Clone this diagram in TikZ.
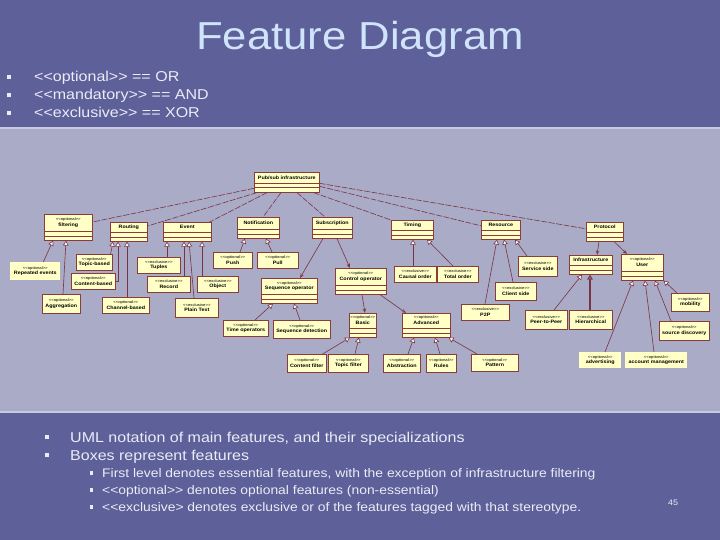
\documentclass[tikz,border=0pt]{standalone}
\usepackage{fontspec}
\setmainfont[FakeStretch=1.12, Ligatures=TeXOff]{Liberation Sans}
\usetikzlibrary{arrows.meta}
\definecolor{slidebg}{HTML}{5D6099}
\definecolor{panel}{HTML}{A9ABC7}
\definecolor{panelrim}{HTML}{C9CADB}
\definecolor{titleblue}{HTML}{CFE4FA}
\definecolor{bullettext}{HTML}{ECECF6}
\definecolor{boxfill}{HTML}{FFFFC6}
\definecolor{boxline}{HTML}{8C3B3B}
\definecolor{linkc}{HTML}{7A3344}

\newcommand{\stp}[1]{{\fontsize{3.8}{5.6}\selectfont\mdseries <<#1>>}\\}

\begin{document}
\begin{tikzpicture}[x=1pt,y=-1pt]
\tikzset{
  sz/.style 2 args={minimum width=#1pt, minimum height=#2pt},
  box/.style={draw=boxline, fill=boxfill, line width=0.6pt, anchor=north west,
    inner sep=0pt, align=center, font=\fontsize{4.8}{5.6}\selectfont\bfseries},
  cls/.style={box, text depth=10pt,
    path picture={\draw[boxline, line width=0.6pt]
      ([yshift=4.5pt]path picture bounding box.south west) -- ([yshift=4.5pt]path picture bounding box.south east)
      ([yshift=9pt]path picture bounding box.south west) -- ([yshift=9pt]path picture bounding box.south east);}},
  leaf/.style={box},
  pale/.style={box, draw=none},
  gen/.style={draw=linkc, line width=0.6pt, -{Triangle[fill=white, length=5pt, width=5.5pt]}},
  own/.style={draw=linkc, line width=0.6pt, -{Stealth[fill=white, length=4.5pt, width=3.5pt]}},
  dep/.style={draw=linkc, line width=0.6pt, dash pattern=on 6pt off 1.5pt},
  bul/.style={fill=bullettext, minimum width=3.5pt, minimum height=4pt, inner sep=0pt},
  slide/.style={text=bullettext, anchor=base west, inner sep=0pt, font=\fontsize{14.3}{17}\selectfont},
  subslide/.style={slide, font=\fontsize{12.4}{14}\selectfont}
}

% slide and diagram panel
\useasboundingbox (0,0) rectangle (720,540);
\fill[slidebg] (0,0) rectangle (720,540);
\fill[panel] (0,128) rectangle (720,412);
\draw[panelrim, line width=2pt] (0,128) -- (720,128);
\draw[panelrim, line width=2pt] (0,412) -- (720,412);

\node[anchor=base, inner sep=0pt, text=titleblue, font=\fontsize{39}{44}\selectfont] (title) at (360,50) {Feature Diagram};

\node[bul] (b1) at (9,77) {};
\node[bul] (b2) at (9,95) {};
\node[bul] (b3) at (9,113) {};
\node[slide] (t1) at (34,82) {<<optional>> == OR};
\node[slide] (t2) at (34,100) {<<mandatory>> == AND};
\node[slide] (t3) at (34,118) {<<exclusive>> == XOR};

% first level
\node[cls, sz={65}{20}] (ps) at (254,172) {Pub/sub infrastructure};
\node[cls, sz={48}{26}] (filt) at (44,214) {\stp{optional}filtering};
\node[cls, sz={37}{19}] (rout) at (110,222) {Routing};
\node[cls, sz={48}{19}] (evt) at (163,222) {Event};
\node[cls, sz={42}{21}] (notif) at (237,217) {Notification};
\node[cls, sz={40}{21}] (subs) at (312,217) {Subscription};
\node[cls, sz={42}{19}] (timing) at (391,220) {Timing};
\node[cls, sz={39}{19}] (res) at (481,220) {Resource};
\node[cls, sz={37}{19}] (prot) at (586,222) {Protocol};

% second level
\node[cls, sz={56}{25}] (seqop) at (261,278) {\stp{optional}Sequence operator};
\node[cls, sz={51}{26}] (ctrl) at (335,268) {\stp{optional}Control operator};
\node[cls, sz={27}{24}] (basic) at (349,313) {\stp{optional}Basic};
\node[cls, sz={48}{24}] (adv) at (402,313) {\stp{optional}Advanced};
\node[cls, sz={43}{19}] (infra) at (569,255) {Infrastructure};
\node[cls, sz={42}{26}] (user) at (621,254) {\stp{optional}User};

% leaves
\node[pale, sz={50}{18}] (rep) at (10,262) {\stp{optional}Repeated events};
\node[leaf, sz={38}{19}] (aggr) at (42,294) {\stp{optional}Aggregation};
\node[leaf, sz={36}{16}] (topic) at (76,254) {\stp{optional}Topic-based};
\node[leaf, sz={44}{16}] (content) at (71,273) {\stp{optional}Content-based};
\node[leaf, sz={47}{16}] (channel) at (102,297) {\stp{optional}Channel-based};
\node[leaf, sz={43}{16}] (tuples) at (137,257) {\stp{exclusive}Tuples};
\node[leaf, sz={43}{16}] (record) at (147,276) {\stp{exclusive}Record};
\node[leaf, sz={41}{16}] (object) at (197,276) {\stp{exclusive}Object};
\node[leaf, sz={43}{19}] (plain) at (175,298) {\stp{exclusive}Plain Text};
\node[leaf, sz={39}{16}] (push) at (213,252) {\stp{optional}Push};
\node[leaf, sz={41}{16}] (pull) at (257,252) {\stp{optional}Pull};
\node[leaf, sz={45}{16}] (timeop) at (223,320) {\stp{optional}Time operators};
\node[leaf, sz={57}{18}] (seqdet) at (273,320) {\stp{optional}Sequence detection};
\node[leaf, sz={39}{18}] (cfilt) at (287,354) {\stp{optional}Content filter};
\node[leaf, sz={40}{18}] (tfilt) at (328,354) {\stp{optional}Topic filter};
\node[leaf, sz={37}{18}] (abstr) at (383,354) {\stp{optional}Abstraction};
\node[leaf, sz={30}{18}] (rules) at (426,354) {\stp{optional}Rules};
\node[leaf, sz={47}{17}] (pattern) at (471,354) {\stp{optional}Pattern};
\node[leaf, sz={42}{16}] (causal) at (394,266) {\stp{exclusive}Causal order};
\node[leaf, sz={41}{16}] (total) at (437,266) {\stp{exclusive}Total order};
\node[leaf, sz={39}{20}] (service) at (518,256) {\stp{exclusive}Service side};
\node[leaf, sz={41}{18}] (client) at (495,282) {\stp{exclusive}Client side};
\node[leaf, sz={48}{16}] (ptwop) at (461,304) {\stp{exclusive}P2P};
\node[leaf, sz={42}{19}] (peer) at (525,310) {\stp{exclusive}Peer-to-Peer};
\node[leaf, sz={43}{19}] (hier) at (569,310) {\stp{exclusive}Hierarchical};
\node[leaf, sz={38}{18}] (mob) at (671,293) {\stp{optional}mobility};
\node[leaf, sz={50}{19}] (srcd) at (659,321) {\stp{optional}source discovery};
\node[pale, sz={42}{16}] (advert) at (579,352) {\stp{optional}advertising};
\node[pale, sz={62}{16}] (acct) at (625,352) {\stp{optional}account management};

% root to first level
\draw[dep] ([yshift=-6pt]ps.west) -- ([yshift=-8pt]filt.north east);
\draw[dep] ([xshift=3pt]ps.south west) -- ([yshift=-4pt]rout.north east);
\draw[dep] ([xshift=13pt]ps.south west) -- ([xshift=-2pt]evt.north east);
\draw[dep] ([xshift=27pt]ps.south west) -- ([xshift=26pt]notif.north west);
\draw[dep] ([xshift=43pt]ps.south west) -- ([xshift=13pt]subs.north west);
\draw[dep] ([xshift=-6pt]ps.south east) -- (timing.north west);
\draw[dep] ([yshift=-4pt]ps.east) -- ([yshift=4pt]res.west);
\draw[dep] ([yshift=-1pt]ps.east) -- ([yshift=3pt]prot.west);

% specializations
\draw[gen] ([xshift=8pt]rep.north) -- ([xshift=9pt]filt.south west);
\draw[gen] ([xshift=21pt]aggr.north west) -- ([xshift=22pt]filt.south west);
\draw[gen] ([xshift=-2pt]topic.north east) -- ([xshift=3pt]rout.south west);
\draw[gen] (content.east) -| ([xshift=8pt]rout.south west);
\draw[gen] ([xshift=25pt]channel.north west) -- ([xshift=17pt]rout.south west);
\draw[gen] ([xshift=30pt]tuples.north west) -- ([xshift=4pt]evt.south west);
\draw[gen] ([xshift=37pt]record.north west) -- ([xshift=21pt]evt.south west);
\draw[gen] ([xshift=19pt]plain.north west) -- ([xshift=26pt]evt.south west);
\draw[gen] ([xshift=5pt]object.north west) -- ([xshift=39pt]evt.south west);
\draw[gen] ([xshift=27pt]push.north west) -- ([xshift=8pt]notif.south west);
\draw[gen] ([xshift=15pt]pull.north west) -- ([xshift=29pt]notif.south west);
\draw[own] ([xshift=11pt]subs.south west) -- ([xshift=39pt]seqop.north west);
\draw[own] ([xshift=25pt]subs.south west) -- ([xshift=15pt]ctrl.north west);
\draw[gen] ([xshift=32pt]timeop.north west) -- ([xshift=12pt]seqop.south west);
\draw[gen] ([xshift=27pt]seqdet.north west) -- ([xshift=33pt]seqop.south west);
\draw[own] ([xshift=27pt]ctrl.south west) -- ([xshift=16pt]basic.north west);
\draw[own] ([xshift=45pt]ctrl.south west) -- ([xshift=4pt]adv.north west);
\draw[gen] ([xshift=-4pt]cfilt.north east) -- ([xshift=1pt]basic.south west);
\draw[gen] ([xshift=27pt]tfilt.north west) -- ([xshift=10pt]basic.south west);
\draw[gen] ([xshift=25pt]abstr.north west) -- ([xshift=12pt]adv.south west);
\draw[gen] ([xshift=14pt]rules.north west) -- ([xshift=33pt]adv.south west);
\draw[gen] ([xshift=6pt]pattern.north west) -- ([xshift=-2pt]adv.south east);
\draw[gen] ([xshift=19pt]causal.north west) -- ([xshift=22pt]timing.south west);
\draw[gen] ([xshift=16pt]total.north west) -- ([xshift=36pt]timing.south west);
\draw[gen] ([xshift=24pt]ptwop.north west) -- ([xshift=16pt]res.south west);
\draw[gen] ([xshift=18pt]client.north west) -- ([xshift=23pt]res.south west);
\draw[gen] ([xshift=9pt]service.north west) -- ([xshift=34pt]res.south west);
\draw[own] ([xshift=13pt]prot.south west) -- ([xshift=28pt]infra.north west);
\draw[own] ([xshift=28pt]prot.south west) -- ([xshift=6pt]user.north west);
\draw[gen] ([xshift=29pt]peer.north west) -- ([xshift=13pt]infra.south west);
\draw[gen, line width=1.2pt] ([xshift=21pt]hier.north west) -- ([xshift=21pt]infra.south west);
\draw[gen] ([xshift=26pt]advert.north west) -- ([xshift=12pt]user.south west);
\draw[gen] ([xshift=29pt]acct.north west) -- ([xshift=24pt]user.south west);
\draw[gen] ([xshift=12pt]srcd.north west) -- ([xshift=34pt]user.south west);
\draw[gen] ([xshift=6pt]mob.north west) -- (user.south east);

% notes below the diagram
\node[bul] (b4) at (47,437) {};
\node[bul] (b5) at (47,455) {};
\node[slide] (t4) at (70,442) {UML notation of main features, and their specializations};
\node[slide] (t5) at (70,460) {Boxes represent features};
\node[bul, minimum width=3pt, minimum height=3.5pt] (b6) at (91,473) {};
\node[bul, minimum width=3pt, minimum height=3.5pt] (b7) at (91,490) {};
\node[bul, minimum width=3pt, minimum height=3.5pt] (b8) at (91,507) {};
\node[subslide] (t6) at (102,477) {First level denotes essential features, with the exception of infrastructure filtering};
\node[subslide] (t7) at (102,494) {<<optional>> denotes optional features (non-essential)};
\node[subslide] (t8) at (102,511) {<<exclusive> denotes exclusive or of the features tagged with that stereotype.};
\node[slide, font=\fontsize{8}{10}\selectfont] (pg) at (668,505) {45};
\end{tikzpicture}
\end{document}
